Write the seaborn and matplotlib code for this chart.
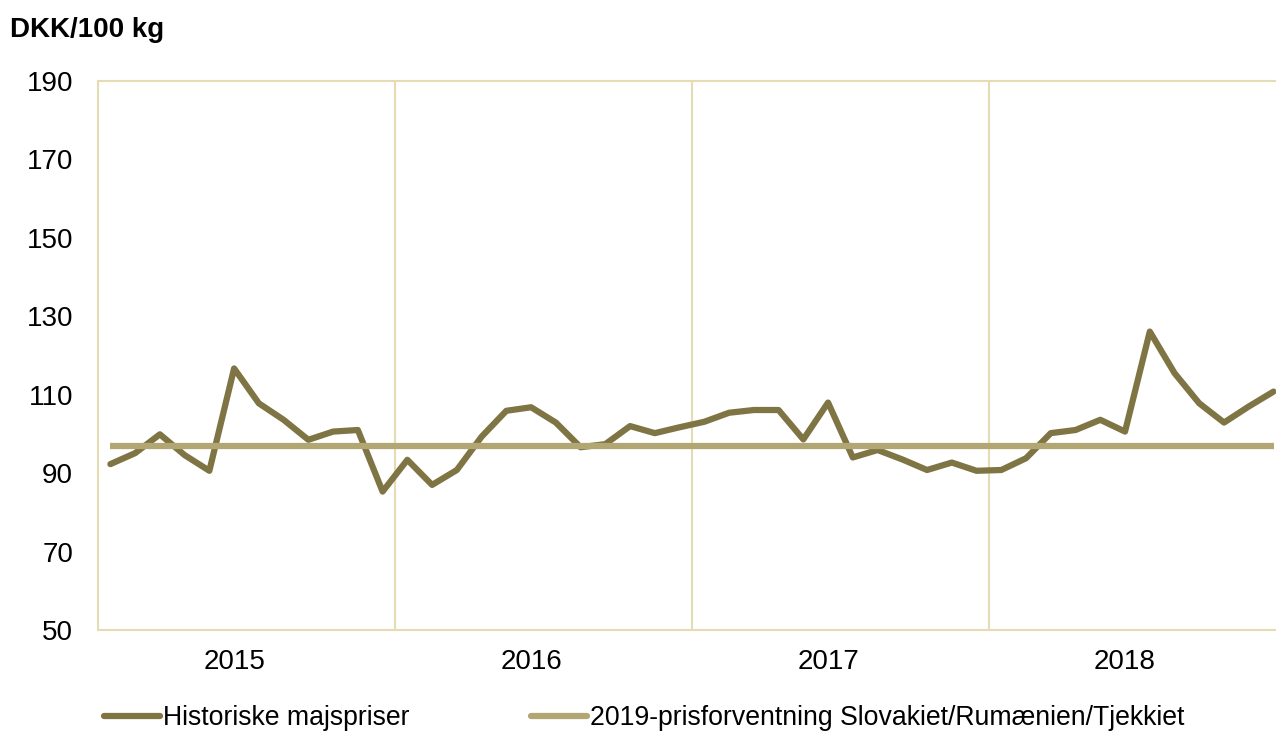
import matplotlib
matplotlib.use("Agg")
import matplotlib.pyplot as plt
import seaborn as sns
import pandas as pd
import numpy as np

years = ["2015", "2016", "2017", "2018"]
prices = [92.3, 95.1, 99.9, 94.6, 90.6, 116.7, 107.8, 103.6, 98.5, 100.6, 101.0, 85.3,
          93.4, 87.0, 90.8, 99.3, 105.9, 106.8, 102.9, 96.6, 97.4, 102.0, 100.2, 101.7,
          103.1, 105.4, 106.1, 106.1, 98.6, 108.0, 94.0, 95.9, 93.5, 90.8, 92.7, 90.6,
          90.8, 93.8, 100.2, 101.0, 103.6, 100.6, 126.1, 115.5, 107.8, 102.9, 107.0, 110.8]
forecast_value = 97.0
series_names = ["Historiske majspriser", "2019-prisforventning Slovakiet/Rumænien/Tjekkiet"]
y_ticks = [50, 70, 90, 110, 130, 150, 170, 190]

sns.set_theme(style="white")
plt.rcParams['font.family'] = ['Liberation Sans', 'DejaVu Sans']
plt.rcParams['text.color'] = 'black'

dark = "#7F7544"
light = "#B2A673"
grid_c = "#E6DCB4"

n = len(prices)
df = pd.DataFrame({
    "x": list(range(n)) * 2,
    "value": prices + [forecast_value] * n,
    "series": [series_names[0]] * n + [series_names[1]] * n,
})

fig = plt.figure(figsize=(12.76, 7.31), dpi=100)
ax = fig.add_axes([98/1276, (731-630)/731, 1 - 98/1276, (630-81)/731])

sns.lineplot(data=df, x="x", y="value", hue="series", palette=[dark, light],
             linewidth=4.5, ax=ax, legend=True)
ax.lines[1].set_solid_capstyle("butt")

ax.set_xlim(-0.5, 47.1)
ax.set_ylim(50, 190)
ax.set_yticks(y_ticks)
ax.set_yticklabels([str(v) for v in y_ticks], fontsize=20)
ax.set_xticks([5 + 12 * i for i in range(len(years))])
ax.set_xticklabels(years, fontsize=20)
ax.tick_params(axis='both', length=0, colors="#000000")
ax.tick_params(axis='y', pad=18)
ax.tick_params(axis='x', pad=14)
ax.set_xlabel("")
ax.set_ylabel("")

for b in [11.5, 23.5, 35.5]:
    ax.axvline(b, color=grid_c, linewidth=1.5, zorder=0)

for s in ["left", "top", "bottom"]:
    ax.spines[s].set_color(grid_c)
    ax.spines[s].set_linewidth(1.5)
ax.spines["right"].set_visible(False)

fig.text(10/1276, 1 - 30/731, "DKK/100 kg", fontsize=20, fontweight="bold",
         va="center", ha="left", color="black")

handles, labels = ax.get_legend_handles_labels()
leg = ax.legend(handles, labels, loc="center left",
                bbox_to_anchor=(104/1276, 1 - 718/731), bbox_transform=fig.transFigure,
                ncol=2, frameon=False, fontsize=19.2, handlelength=2.1, handletextpad=0.12,
                columnspacing=4.55, borderaxespad=0, borderpad=0)
for t in leg.get_texts():
    t.set_color("black")

fig.savefig("out.png", dpi=100, facecolor="white")
